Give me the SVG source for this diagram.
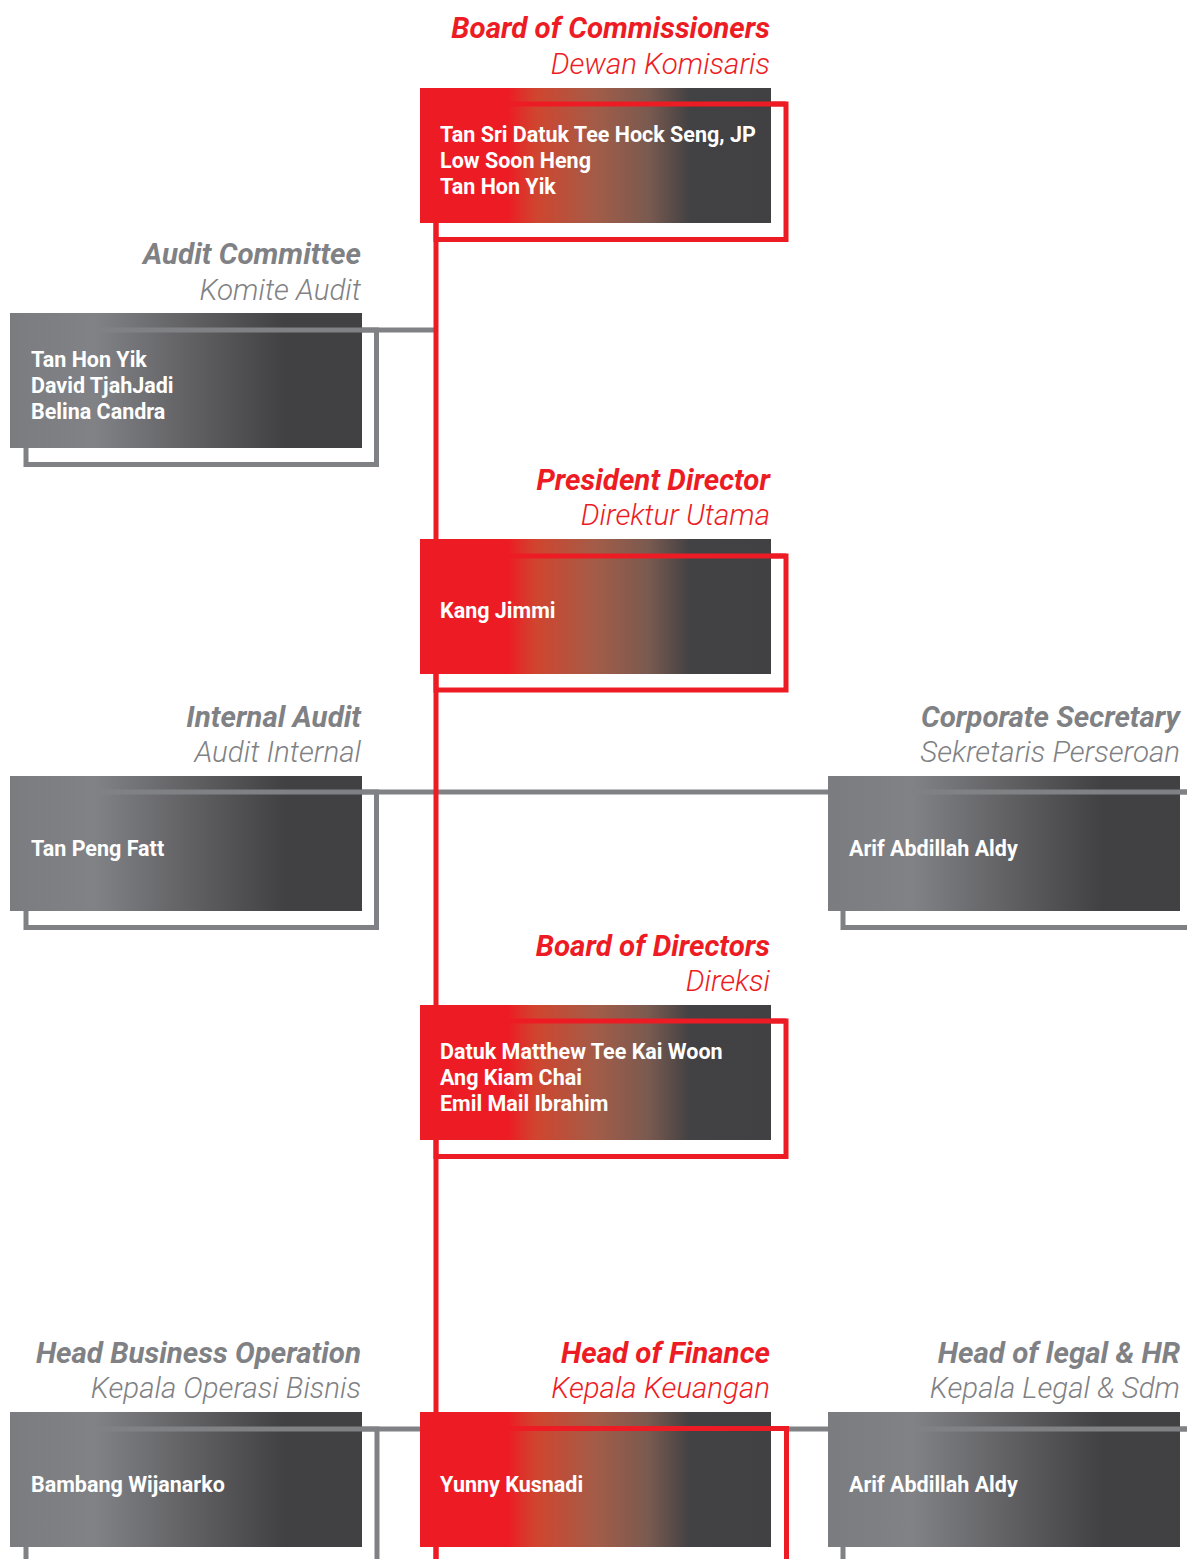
<svg xmlns="http://www.w3.org/2000/svg" width="1187" height="1559" viewBox="0 0 1187 1559">
<defs>
<linearGradient id="gRed" x1="0" y1="0" x2="1" y2="0">
<stop offset="0" stop-color="#ED1C24"/>
<stop offset="0.25" stop-color="#ED1C24"/>
<stop offset="0.33" stop-color="#D0452F"/>
<stop offset="0.5" stop-color="#A35C48"/>
<stop offset="0.65" stop-color="#7A5A50"/>
<stop offset="0.77" stop-color="#424143"/>
<stop offset="1" stop-color="#414042"/>
</linearGradient>
<linearGradient id="gGray" x1="0" y1="0" x2="1" y2="0">
<stop offset="0" stop-color="#7B7C80"/>
<stop offset="0.24" stop-color="#818286"/>
<stop offset="0.78" stop-color="#414042"/>
<stop offset="1" stop-color="#414042"/>
</linearGradient>
</defs>
<style>
.t{font-family:Roboto,"Liberation Sans",sans-serif;font-style:italic;font-weight:700;font-size:29.5px;text-anchor:end}
.s{font-family:Roboto,"Liberation Sans",sans-serif;font-style:italic;font-weight:300;font-size:29.5px;text-anchor:end}
.red{fill:#ED1C24}
.gry{fill:#808184}
.n{font-family:Roboto,"Liberation Sans",sans-serif;font-weight:700;font-size:21.5px;fill:#FFFFFF}
.fr{fill:url(#gRed)}
.fg{fill:url(#gGray)}
.or{fill:none;stroke:#ED1C24;stroke-width:5}
.og{fill:none;stroke:#808184;stroke-width:5}
.cg{stroke:#808184;stroke-width:5;fill:none}
.cr{stroke:#ED1C24;stroke-width:5;fill:none}
</style>
<rect width="1187" height="1559" fill="#FFFFFF"/>
<g id="connectors">
<line class="cg" x1="376" y1="330" x2="436" y2="330"/>
<line class="cg" x1="376" y1="792" x2="843" y2="792"/>
<line class="cg" x1="377" y1="1429" x2="420" y2="1429"/>
<line class="cg" x1="786" y1="1429" x2="843" y2="1429"/>
<line class="cr" x1="436" y1="88" x2="436" y2="1559"/>
</g>
<g id="board-of-commissioners">
<text class="t red" x="770" y="38">Board of Commissioners</text>
<text class="s red" x="770" y="74">Dewan Komisaris</text>
<rect class="or" x="436" y="104" width="350" height="135.5"/>
<rect class="fr" x="420" y="88" width="351" height="135"/>
<line class="cr" x1="436" y1="104" x2="786" y2="104"/>
<text class="n" x="440" y="141.5">Tan Sri Datuk Tee Hock Seng, JP</text>
<text class="n" x="440" y="167.5">Low Soon Heng</text>
<text class="n" x="440" y="193.5">Tan Hon Yik</text>
</g>
<g id="audit-committee">
<text class="t gry" x="361" y="264">Audit Committee</text>
<text class="s gry" x="361" y="300">Komite Audit</text>
<rect class="og" x="26" y="330" width="350.5" height="134.5"/>
<rect class="fg" x="10" y="313" width="352" height="135"/>
<line class="cg" x1="95" y1="330" x2="376" y2="330"/>
<text class="n" x="31" y="366.5">Tan Hon Yik</text>
<text class="n" x="31" y="392.5">David TjahJadi</text>
<text class="n" x="31" y="418.5">Belina Candra</text>
</g>
<g id="president-director">
<text class="t red" x="770" y="490">President Director</text>
<text class="s red" x="770" y="525">Direktur Utama</text>
<rect class="or" x="436" y="556" width="350" height="134"/>
<rect class="fr" x="420" y="539" width="351" height="135"/>
<line class="cr" x1="436" y1="556" x2="786" y2="556"/>
<text class="n" x="440" y="618">Kang Jimmi</text>
</g>
<g id="internal-audit">
<text class="t gry" x="361" y="727">Internal Audit</text>
<text class="s gry" x="361" y="762">Audit Internal</text>
<rect class="og" x="26" y="792" width="350.5" height="135.5"/>
<rect class="fg" x="10" y="776" width="352" height="135"/>
<line class="cg" x1="95" y1="792" x2="376" y2="792"/>
<text class="n" x="31" y="856">Tan Peng Fatt</text>
</g>
<g id="corporate-secretary">
<text class="t gry" x="1180" y="727">Corporate Secretary</text>
<text class="s gry" x="1180" y="762">Sekretaris Perseroan</text>
<rect class="og" x="843" y="792" width="360" height="135.5"/>
<rect class="fg" x="828" y="776" width="352" height="135"/>
<line class="cg" x1="912" y1="792" x2="1187" y2="792"/>
<text class="n" x="849" y="856">Arif Abdillah Aldy</text>
</g>
<g id="board-of-directors">
<text class="t red" x="770" y="956">Board of Directors</text>
<text class="s red" x="770" y="991">Direksi</text>
<rect class="or" x="436" y="1021" width="350" height="135.5"/>
<rect class="fr" x="420" y="1005" width="351" height="135"/>
<line class="cr" x1="436" y1="1021" x2="786" y2="1021"/>
<text class="n" x="440" y="1058.5">Datuk Matthew Tee Kai Woon</text>
<text class="n" x="440" y="1084.5">Ang Kiam Chai</text>
<text class="n" x="440" y="1110.5">Emil Mail Ibrahim</text>
</g>
<g id="head-business-operation">
<text class="t gry" x="361" y="1363">Head Business Operation</text>
<text class="s gry" x="361" y="1398">Kepala Operasi Bisnis</text>
<rect class="og" x="26" y="1429" width="351" height="200"/>
<rect class="fg" x="10" y="1412" width="352" height="135"/>
<line class="cg" x1="95" y1="1429" x2="377" y2="1429"/>
<text class="n" x="31" y="1491.5">Bambang Wijanarko</text>
</g>
<g id="head-of-finance">
<text class="t red" x="770" y="1363">Head of Finance</text>
<text class="s red" x="770" y="1398">Kepala Keuangan</text>
<rect class="or" x="436" y="1428.5" width="350.5" height="200"/>
<rect class="fr" x="420" y="1412" width="351" height="135"/>
<line class="cr" x1="436" y1="1428.5" x2="786.5" y2="1428.5"/>
<text class="n" x="440" y="1491.5">Yunny Kusnadi</text>
</g>
<g id="head-of-legal-hr">
<text class="t gry" x="1180" y="1363">Head of legal &amp; HR</text>
<text class="s gry" x="1180" y="1398">Kepala Legal &amp; Sdm</text>
<rect class="og" x="843" y="1429" width="360" height="200"/>
<rect class="fg" x="828" y="1412" width="352" height="135"/>
<line class="cg" x1="912" y1="1429" x2="1187" y2="1429"/>
<text class="n" x="849" y="1491.5">Arif Abdillah Aldy</text>
</g>
</svg>
